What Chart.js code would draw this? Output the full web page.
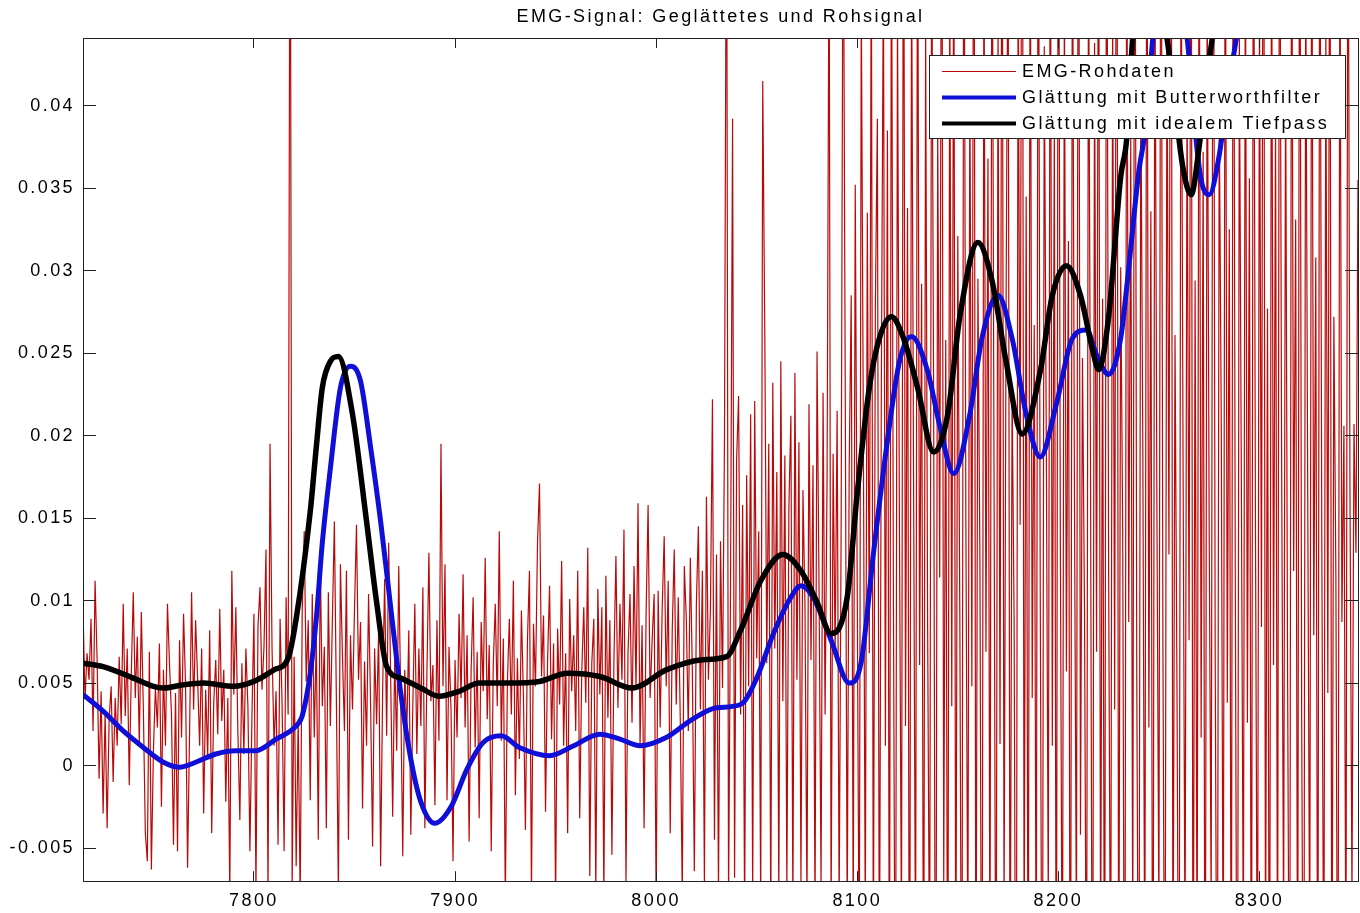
<!DOCTYPE html>
<html><head><meta charset="utf-8">
<script src="https://cdn.jsdelivr.net/npm/chart.js@4.4.0/dist/chart.umd.min.js"></script>
<style>html,body{margin:0;padding:0;background:#fff;overflow:hidden}</style>
</head><body>
<canvas id="c" width="1360" height="913" style="width:1360px;height:913px;display:block"></canvas>
<script>
const titleText = 'EMG-Signal: Geglättetes und Rohsignal';
const seriesNames = ['EMG-Rohdaten', 'Glättung mit Butterworthfilter', 'Glättung mit idealem Tiefpass'];
const xTicks = [7800, 7900, 8000, 8100, 8200, 8300];
const xTickLabels = ['7800', '7900', '8000', '8100', '8200', '8300'];
const yTicks = [-0.005, 0, 0.005, 0.01, 0.015, 0.02, 0.025, 0.03, 0.035, 0.04];
const yTickLabels = ['-0.005', '0', '0.005', '0.01', '0.015', '0.02', '0.025', '0.03', '0.035', '0.04'];
const xMin = 7715, xMax = 8349, yMin = -0.00701, yMax = 0.0441;

// raw EMG samples, one per sample index starting at rawStart
const rawStart = 7715;
const rawValues = [
.0095,.004,.0068,.0052,.0089,.0021,.0112,.0065,-.0008,.0045,-.0029,.0032,-.0038,.0028,.0048,-.001,.0041,.0012,.0066,.0025,
.0098,.003,.0071,-.0012,.0055,.0105,.0041,.0078,.0013,.0093,.0035,-.0041,-.0058,.0069,-.0063,.0008,.0047,.0023,.0074,-.0025,
.0058,.0012,.0098,.0062,.0031,-.0048,.0044,-.0052,.0076,.0017,.0092,.0049,-.0062,.0021,.0105,.0034,.0088,.0052,.0012,.0071,
-.0029,.0046,.0006,.0082,-.0041,.0038,.0064,.0019,.0095,.0027,.0058,-.0022,.0041,-.0078,.0118,.0043,.0096,.0021,-.0033,.0062,
.0007,.0071,.0036,-.0052,.0029,.0092,-.0076,.0084,.0108,.0046,.0072,.0131,-.0079,.0195,.0071,.0012,.0045,-.0048,.0089,.0037,
-.0052,.0102,.0031,.062,-.0075,.0066,-.0061,.0028,-.0081,.0093,.0142,.0051,.0088,-.0021,.0104,.0017,.0078,-.0045,.0125,.0036,
.0072,-.0038,.0105,.0024,.0088,.0148,.0039,-.0078,.0122,.0067,.0021,.0118,-.0045,.0079,.0034,.0095,.0146,.0052,.0087,-.0026,
.0063,.0012,.0104,.0038,-.0049,.0071,.0025,.0082,-.0061,.0046,.0113,.0018,.0135,.0052,-.0031,.0067,.0009,.0121,.0041,-.0055,
.0058,.0019,.0082,-.0042,.0036,.0098,.0007,.0071,.0024,.0108,-.0038,.0055,.0129,.0039,.0061,-.0024,.0088,.0015,.0195,.0048,
.0122,-.0021,.0072,.0034,-.0058,.0064,.0017,.0092,.0041,.0116,.0023,.0079,-.0046,.0058,.0102,.0011,.0069,-.0032,.0087,.0045,
.0126,.0028,.0073,-.0052,.0061,.0098,.0036,.0142,.0015,.0077,-.0082,.0049,.0089,.0031,.0112,-.0018,.0065,.0004,.0094,.0042,
-.0039,.0076,.0118,-.0079,.0086,.0048,.0135,.0171,.0054,.0091,-.0028,.0063,.0109,.0016,.0074,-.0083,.0083,.0037,.0124,.0012,
.0068,-.0041,.0101,.0045,.0079,.0021,.0118,-.0032,.0056,.0096,.0038,.0132,-.0067,.0062,.0089,-.0078,.0107,.0043,.0096,-.0081,
.0115,.0029,.0088,-.0054,.0063,.0127,.0035,.0098,.0052,.0143,-.0072,.0068,.0104,.0026,.0121,.0047,.0159,.0012,.0085,-.0038,
.0092,.0158,.0041,.0076,.0104,-.0085,.0106,.0023,.0095,.0139,.0048,.0112,-.0041,.0082,.0131,.0037,.0102,.0028,-.0079,.0121,
.0089,.0021,.0126,.0057,-.0064,.0098,.0145,.0034,.0118,-.0071,.0163,.0052,.0095,.0222,-.0045,.0128,-.0078,.0136,.0047,.0202,
.058,-.0085,.0112,.0392,-.0068,.0185,.0224,.0031,.0158,-.0092,.0176,.0048,.0213,-.0079,.0221,.0065,.0142,-.0088,.0415,.0268,
.0062,.0195,-.0094,.0232,.0071,.0178,-.0082,.0245,.0039,.0188,-.0076,.0156,.0212,-.0089,.0238,.0052,.0196,-.0071,.0167,.0098,
-.0085,.0219,.0064,.0182,-.0093,.0251,.0108,-.0072,.0226,.0031,.0175,.052,-.0095,.0189,.0068,.0215,-.0088,.0147,.0561,.0236,
-.0091,.0182,.0285,-.0097,.0352,.0105,-.0142,.0468,.0211,-.0098,.0335,.0068,.0512,-.0125,.0278,.0392,-.0155,.0236,.0485,.0012,
.0385,-.0182,.0541,.0095,-.0221,.0462,.0138,-.0105,.0612,.0024,.0338,-.0246,.0498,.0176,-.0132,.0571,.0061,.0292,-.0198,.0447,
.0083,-.0145,.0526,.0217,-.0263,.0389,.0114,.0635,-.0072,.0258,-.0211,.0482,.0036,.0545,-.0168,.0321,.0092,-.0235,.0598,.0151,
-.0119,.0423,.0048,.0672,-.0187,.0295,.0124,-.0251,.0516,.0069,.0368,-.0143,.0587,.0182,-.0216,.0451,.0013,.0624,-.0094,.0276,
.0531,-.0172,.0228,.0089,-.0268,.0493,.0146,.0702,-.0123,.0345,-.0204,.0562,.0041,.0267,-.0157,.0618,.0105,-.0239,.0436,.0198,
-.0086,.0574,.0012,.0389,-.0221,.0645,.0132,-.0178,.0472,.0057,.0318,-.0265,.0551,.0164,-.0109,.0689,-.0042,.0247,.0095,-.0193,
.0512,.0176,-.0247,.0438,.0069,.0596,-.0134,.0283,-.0212,.0627,.0118,-.0168,.0459,.0034,.0715,-.0185,.0302,.0141,-.0258,.0548,
.0087,.0382,-.0121,.0661,.0052,-.0233,.0417,.0193,-.0146,.0589,.0023,.0336,-.0271,.0506,.0158,-.0097,.0643,.0071,-.0219,.0454,
.0128,.0698,-.0163,.0261,.0045,-.0242,.0537,.0189,-.0118,.0412,.0076,.0621,-.0205,.0294,-.0137,.0568,.0017,.0372,-.0251,.0485,
.0142,-.0089,.0657,.0063,-.0226,.0398,.0211,-.0154,.0582,.0038,.0325,-.0193,.0634,.0105,-.0262,.0441,.0172,-.0118,.0519,.0026,
.0356,-.0217,.0603,.0149,-.0176,.0468,.0084,.0692,-.0131,.0277,-.0244,.0543,.0061,.0389,-.0158,.0615,.0193,-.0102,.0427,.0052,
-.0229,.0576,.0118,.0331,-.0187,.0649,.0027,-.0253,.0492,.0165,-.0126,.0564,.0079,.0308,-.0214,.0588,.0136,-.0169,.0451,.0044,
.0623,-.0198,.0272,.0115,-.0238,.0531,.0087,.0206,-.0142,.0597,.0168,-.0081,.0207,.0129,.0355,-.0105
];

// Butterworth-smoothed curve (blue)
const butterX = [7715,7725,7735,7745,7755,7763,7771,7781,7791,7801,7811,7821,7824,7828,7831,7834,7838,7843,7848,7853,7858,7863,7868,7873,7878,7883,7890,7898,7906,7914,7923,7932,7947,7959,7972,7982,7992,8005,8018,8030,8042,8050,8058,8067,8072,8078,8087,8096,8102,8108,8115,8121,8127,8135,8141,8148,8156,8162,8170,8177,8184,8191,8199,8207,8214,8219,8225,8231,8234,8240,8244,8247,8255,8264,8268,8271,8275,8280,8285,8289,8294];
const butterY = [.0043,.0033,.0021,.0011,.0002,-.0001,.0002,.0007,.0009,.0009,.0016,.0024,.0030,.0056,.0089,.0135,.0180,.0229,.0242,.0233,.0193,.0148,.0096,.0044,.0004,-.0022,-.0035,-.0025,-.0002,.0014,.0018,.0011,.0006,.0012,.0019,.0016,.0012,.0017,.0028,.0035,.0037,.0053,.0079,.0102,.0109,.0102,.0076,.0050,.0063,.0128,.0197,.0245,.0260,.0239,.0206,.0177,.0213,.0259,.0285,.0259,.0213,.0187,.0219,.0259,.0264,.0249,.0237,.0259,.0290,.0360,.0392,.0441,.0480,.0441,.0385,.0355,.0346,.0370,.0415,.0445,.0500];

// ideal low-pass curve (black)
const lowX = [7715,7725,7740,7750,7755,7765,7775,7790,7800,7810,7817,7821,7828,7831,7834,7838,7842,7849,7856,7861,7866,7873,7883,7892,7902,7912,7926,7942,7956,7972,7988,8005,8022,8035,8042,8052,8063,8072,8080,8087,8095,8100,8106,8111,8117,8123,8130,8138,8145,8151,8160,8167,8174,8182,8191,8197,8204,8211,8217,8220,8225,8231,8234,8237,8245,8254,8258,8262,8266,8270,8274,8277,8282];
const lowY = [.0062,.0060,.0053,.0048,.0047,.0049,.0050,.0048,.0051,.0058,.0065,.0089,.0154,.0193,.0229,.0245,.0248,.0213,.0148,.0099,.0060,.0053,.0047,.0042,.0045,.0050,.0050,.0051,.0056,.0054,.0047,.0058,.0064,.0066,.0082,.0112,.0128,.0118,.0099,.0080,.0102,.0165,.0229,.0259,.0272,.0259,.0229,.0190,.0213,.0272,.0317,.0294,.0245,.0201,.0239,.0285,.0303,.0285,.0252,.0240,.0272,.0357,.0380,.0441,.0480,.0441,.0400,.0362,.0346,.0375,.0420,.0445,.0510];

const FONT = '"Liberation Sans", Arial, Helvetica, sans-serif';
const LS = '2.4px';
Chart.defaults.font.family = FONT;
Chart.defaults.color = '#000';

const colors = ['rgb(185,10,10)', 'rgb(15,15,215)', '#000000'];
const widths = [1.2, 5, 5.5];

const spacingPlugin = {
  id: 'spacing',
  beforeUpdate(c) { c.ctx.letterSpacing = LS; },
  beforeLayout(c) { c.ctx.letterSpacing = LS; },
  beforeDraw(c) { c.ctx.letterSpacing = LS; }
};

const boxLegend = {
  id: 'boxLegend',
  afterDraw(c) {
    const ctx = c.ctx;
    ctx.save();
    ctx.letterSpacing = LS;
    const x0 = 929, y0 = 55, w = 416, h = 83;
    ctx.fillStyle = '#fff';
    ctx.fillRect(x0, y0, w, h);
    ctx.strokeStyle = '#222';
    ctx.lineWidth = 1;
    ctx.strokeRect(x0 + 0.5, y0 + 0.5, w, h);
    ctx.font = '18px ' + FONT;
    ctx.textBaseline = 'middle';
    ctx.textAlign = 'left';
    c.data.datasets.forEach((ds, i) => {
      const y = y0 + 16 + i * 26;
      ctx.beginPath();
      ctx.strokeStyle = ds.borderColor;
      ctx.lineWidth = i === 0 ? 1 : 4;
      ctx.moveTo(942, y + 0.5);
      ctx.lineTo(1016, y + 0.5);
      ctx.stroke();
      ctx.fillStyle = '#000';
      ctx.fillText(ds.label, 1022, y + 1);
    });
    ctx.restore();
  }
};

const axisCommon = (pos, tl) => ({
  type: 'linear',
  position: pos,
  grid: { drawOnChartArea: false, tickLength: tl, color: '#222', z: 1 },
  border: { color: '#222', width: 1, z: 1 }
});

const xAxis = (pos, show) => Object.assign(axisCommon(pos, -10), {
  min: xMin, max: xMax,
  afterBuildTicks: s => { s.ticks = xTicks.map(v => ({ value: v })); },
  afterFit: s => { s.height = show ? 29 : 0; },
  ticks: { display: show, autoSkip: false, maxRotation: 0, padding: 19,
    font: { size: 18 }, color: '#000', callback: (v, i) => xTickLabels[i] }
});
const yAxis = (pos, show) => Object.assign(axisCommon(pos, -13), {
  min: yMin, max: yMax,
  afterBuildTicks: s => { s.ticks = yTicks.map(v => ({ value: v })); },
  afterFit: s => { s.width = show ? 83 : 0; },
  ticks: { display: show, padding: 21, font: { size: 18 }, color: '#000',
    callback: (v, i) => yTickLabels[i] }
});

new Chart(document.getElementById('c'), {
  type: 'line',
  data: {
    datasets: [
      { label: seriesNames[0], data: rawValues.map((v, i) => ({ x: rawStart + i, y: v })),
        borderColor: colors[0], borderWidth: widths[0], pointRadius: 0, tension: 0, order: 3, clip: 0 },
      { label: seriesNames[1], data: butterX.map((x, i) => ({ x: x, y: butterY[i] })),
        borderColor: colors[1], borderWidth: widths[1], pointRadius: 0, cubicInterpolationMode: 'monotone', order: 2, clip: 0 },
      { label: seriesNames[2], data: lowX.map((x, i) => ({ x: x, y: lowY[i] })),
        borderColor: colors[2], borderWidth: widths[2], pointRadius: 0, cubicInterpolationMode: 'monotone', order: 1, clip: 0 }
    ]
  },
  options: {
    responsive: false,
    animation: false,
    devicePixelRatio: 1,
    layout: { padding: { left: 0, right: 2, top: 0, bottom: 0 } },
    plugins: {
      legend: { display: false },
      tooltip: { enabled: false },
      title: { display: true, fullSize: false, text: titleText, color: '#000',
        font: { family: FONT, size: 18, weight: 'normal' }, padding: { top: 6, bottom: 10.4 } }
    },
    scales: {
      x: xAxis('bottom', true),
      x2: xAxis('top', false),
      y: yAxis('left', true),
      y2: yAxis('right', false)
    }
  },
  plugins: [spacingPlugin, boxLegend]
});
</script>
</body></html>
